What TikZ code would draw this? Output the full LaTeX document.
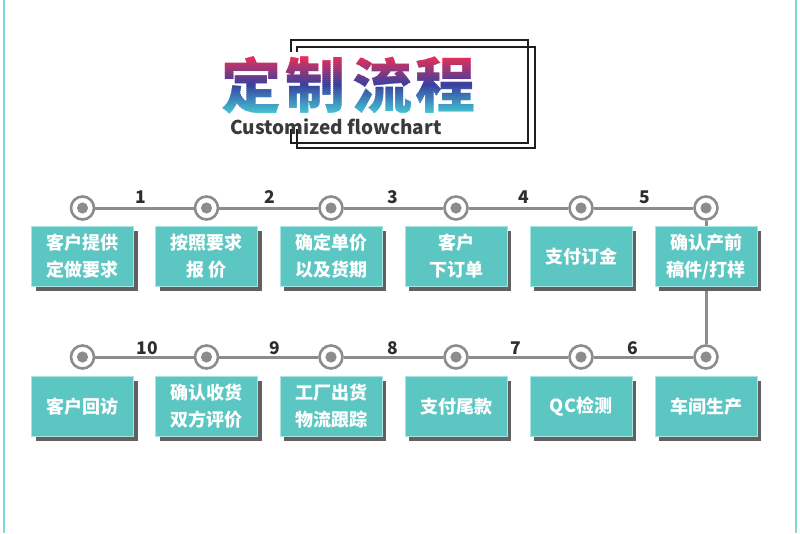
\documentclass[tikz,border=0pt]{standalone}
\usepackage{fontspec}
\setmainfont{Noto Sans CJK SC}
\usetikzlibrary{shadows}
\definecolor{boxteal}{HTML}{5CC6C2}
\definecolor{boxedge}{HTML}{A8E4E1}
\definecolor{edgeteal}{HTML}{7ED9D4}
\definecolor{ringgray}{HTML}{8C8C8C}
\definecolor{numgray}{HTML}{2E2E2E}
\definecolor{subgray}{HTML}{3A3A3A}
\definecolor{gA}{HTML}{EA2F55}
\definecolor{gB}{HTML}{3B3F9F}
\definecolor{gC}{HTML}{45C3D2}
\tikzset{
  stepbox/.style={rectangle, minimum width=102pt, minimum height=60pt, inner sep=0pt,
    fill=boxteal, draw=boxedge, line width=0.8pt, text=white, align=center,
    font=\fontsize{18}{27}\selectfont\bfseries,
    general shadow={fill=black!62, shadow xshift=4pt, shadow yshift=-4pt}},
  dotnode/.style={circle, minimum size=23pt, inner sep=0pt, fill=white, draw=ringgray,
    line width=2.6pt,
    path picture={\fill[ringgray] (path picture bounding box.center) circle[radius=5.6pt];}},
  conn/.style={draw=ringgray, line width=3pt},
  numlabel/.style={text=numgray, font=\fontsize{17.5}{17.5}\selectfont\bfseries, inner sep=0pt},
  titlechar/.style={inner sep=0pt, font=\fontsize{60}{60}\selectfont\bfseries},
  frameline/.style={draw=black!88, line width=1.8pt},
}
\begin{document}
\begin{tikzpicture}[x=1pt,y=-1pt]
\useasboundingbox (0,0) rectangle (800,533);
\fill[white] (0,0) rectangle (800,533);
% side borders
\draw[edgeteal, line width=2pt] (3.8,0) -- (3.8,533);
\draw[edgeteal, line width=2pt] (796,0) -- (796,533);

% title frames
\draw[frameline] (291,40) rectangle (528,143);
\draw[frameline] (297,47) rectangle (535,148);
\fill[white] (212,52) rectangle (478,129);

% gradient title, drawn in thin clipped bands
\foreach \k in {0,...,28}{
  \pgfmathsetmacro\ya{56+2*\k}
  \pgfmathsetmacro\yb{\ya+2.3}
  \ifnum\k<15
    \pgfmathtruncatemacro\p{100-100*\k/14}
    \colorlet{bandc}{gA!\p!gB}
  \else
    \pgfmathtruncatemacro\p{100-100*(\k-14)/14}
    \colorlet{bandc}{gB!\p!gC}
  \fi
  \begin{scope}
    \clip (200,\ya) rectangle (490,\yb);
    \foreach \ch/\cx [count=\j] in {定/251,制/315,流/382,程/445}
      \node[titlechar, text=bandc] (t\k-\j) at (\cx,85) {\ch};
  \end{scope}
}
\node[anchor=base, inner sep=0pt, text=subgray, font=\fontsize{19}{19}\selectfont\bfseries]
  (subtitle) at (336,134) {Customized flowchart};

% circles
\foreach \i/\x in {1/82.5,2/206.5,3/331,4/456,5/581,6/706}
  \node[dotnode] (c\i) at (\x,208) {};
\foreach \i/\x in {7/706,8/581,9/456,10/331,11/206.5,12/82.5}
  \node[dotnode] (c\i) at (\x,357) {};

% connectors
\foreach \a/\b in {1/2,2/3,3/4,4/5,5/6,6/7,7/8,8/9,9/10,10/11,11/12}
  \draw[conn] (c\a) -- (c\b);

% step numbers
\node[numlabel] (n1) at (141,197) {1};
\node[numlabel] (n2) at (270,197) {2};
\node[numlabel] (n3) at (393,197) {3};
\node[numlabel] (n4) at (524,197) {4};
\node[numlabel] (n5) at (645,197) {5};
\node[numlabel] (n6) at (633,348) {6};
\node[numlabel] (n7) at (516,348) {7};
\node[numlabel] (n8) at (393,348) {8};
\node[numlabel] (n9) at (275,348) {9};
\node[numlabel] (n10) at (147,348) {10};

% boxes
\node[stepbox] (b1) at (82.5,256.5) {客户提供\\定做要求};
\node[stepbox] (b2) at (206.5,256.5) {按照要求\\报 价};
\node[stepbox] (b3) at (331,256.5) {确定单价\\以及货期};
\node[stepbox] (b4) at (456,256.5) {客户\\下订单};
\node[stepbox] (b5) at (581,256.5) {支付订金};
\node[stepbox] (b6) at (706,256.5) {确认产前\\稿件/打样};
\node[stepbox] (b7) at (706,406.5) {车间生产};
\node[stepbox] (b8) at (581,406.5) {QC检测};
\node[stepbox] (b9) at (456,406.5) {支付尾款};
\node[stepbox] (b10) at (331,406.5) {工厂出货\\物流跟踪};
\node[stepbox] (b11) at (206.5,406.5) {确认收货\\双方评价};
\node[stepbox] (b12) at (82.5,406.5) {客户回访};
\end{tikzpicture}
\end{document}
